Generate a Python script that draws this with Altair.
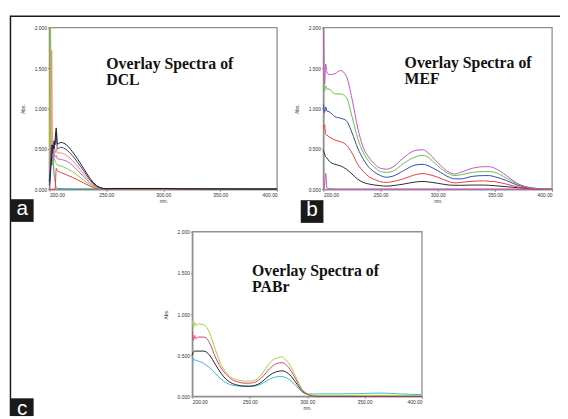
import altair as alt
import pandas as pd

# ---------------- data ----------------
X_TICKS = [200, 250, 300, 350, 400]
Y_TICKS = [0.0, 0.5, 1.0, 1.5, 2.0]

# Panel a : DCL
DCL_WL = [200, 200.5, 201, 201.5, 202, 202.5, 203, 204, 205, 206, 207, 210, 215, 220,
          225, 230, 235, 240, 245, 250, 260, 280, 300, 320, 350, 400]
DCL_BLACK = [0.05, 0.10, 0.20, 0.30, 0.40, 0.50, 0.55, 0.50, 0.62, 0.76, 0.56, 0.58,
             0.55, 0.47, 0.37, 0.26, 0.15, 0.065, 0.02, 0.008, 0.01, 0.01, 0.01,
             0.006, 0.005, 0.004]
DCL_BLUE = [0.10, 0.20, 0.30, 0.45, 0.55, 0.50, 0.45, 0.60, 0.55, 0.70, 0.50, 0.52,
            0.49, 0.42, 0.33, 0.23, 0.13, 0.055, 0.017, 0.006, 0.008, 0.008, 0.008,
            0.005, 0.004, 0.003]
DCL_ORANGE = [0.20, 0.30, 0.60, 1.20, 1.72, 0.80, 0.50, 0.60, 0.45, 0.50, 0.45, 0.45,
              0.42, 0.36, 0.28, 0.19, 0.11, 0.045, 0.014, 0.005, 0.006, 0.006, 0.006,
              0.004, 0.004, 0.003]
DCL_MAGENTA = [0.10, 0.25, 0.40, 0.55, 0.50, 0.40, 0.35, 0.45, 0.40, 0.42, 0.38, 0.37,
               0.35, 0.30, 0.23, 0.16, 0.09, 0.038, 0.012, 0.01, 0.012, 0.012, 0.012,
               0.01, 0.004, 0.003]
DCL_GREEN = [0.30, 1.20, 2.00, 0.90, 0.50, 0.35, 0.30, 0.40, 0.35, 0.32, 0.30, 0.29,
             0.26, 0.22, 0.17, 0.115, 0.065, 0.027, 0.008, 0.005, 0.006, 0.006, 0.006,
             0.006, 0.006, 0.005]
DCL_RED = [0.0, 0.0, 0.0, 0.0, 0.0, 0.0, 0.0, 0.0, 0.0, 0.26, 0.23, 0.21, 0.18, 0.15,
           0.115, 0.08, 0.045, 0.018, 0.005, 0.003, 0.003, 0.003, 0.003, 0.003, 0.003,
           0.003]
DCL_TEAL = [0.10, 0.30, 0.60, 0.40, 0.30, 0.45, 0.50, 0.20, 0.10, 0.02, 0.01, 0.008,
            0.006, 0.005, 0.005, 0.005, 0.005, 0.005, 0.005, 0.005, 0.005, 0.005,
            0.005, 0.004, 0.004, 0.003]

# Panel b : MEF
MEF_WL = [200, 201, 202, 203, 205, 210, 215, 220, 225, 230, 235, 240, 245, 250, 255,
          260, 270, 280, 287, 290, 300, 310, 315, 320, 330, 340, 345, 350, 360, 370,
          380, 390, 400]
MEF_MAGENTA = [2.00, 1.30, 1.55, 1.45, 1.42, 1.43, 1.47, 1.40, 1.12, 0.76, 0.51, 0.39,
               0.31, 0.26, 0.25, 0.27, 0.39, 0.48, 0.49, 0.47, 0.33, 0.21, 0.19, 0.21,
               0.26, 0.28, 0.28, 0.26, 0.17, 0.07, 0.02, 0.005, 0.0]
MEF_GREEN = [1.40, 1.22, 1.28, 1.24, 1.24, 1.18, 1.18, 1.14, 0.90, 0.63, 0.45, 0.34,
             0.27, 0.22, 0.21, 0.22, 0.32, 0.40, 0.42, 0.41, 0.29, 0.19, 0.17, 0.18,
             0.21, 0.22, 0.22, 0.21, 0.14, 0.065, 0.025, 0.008, 0.0]
MEF_BLUE = [1.05, 0.95, 1.02, 0.97, 0.96, 0.90, 0.88, 0.85, 0.70, 0.51, 0.37, 0.27,
            0.21, 0.17, 0.15, 0.16, 0.23, 0.30, 0.31, 0.30, 0.23, 0.15, 0.13, 0.13,
            0.16, 0.17, 0.17, 0.155, 0.11, 0.05, 0.02, 0.006, 0.0]
MEF_RED = [0.75, 0.80, 0.68, 0.67, 0.65, 0.61, 0.59, 0.55, 0.45, 0.31, 0.22, 0.155,
           0.12, 0.095, 0.085, 0.095, 0.13, 0.18, 0.195, 0.19, 0.15, 0.095, 0.08, 0.085,
           0.10, 0.105, 0.10, 0.095, 0.065, 0.03, 0.012, 0.004, 0.0]
MEF_BLACK = [0.48, 0.44, 0.40, 0.39, 0.35, 0.31, 0.29, 0.25, 0.19, 0.125, 0.085, 0.065,
             0.053, 0.045, 0.04, 0.045, 0.065, 0.09, 0.098, 0.095, 0.075, 0.053, 0.05,
             0.05, 0.053, 0.053, 0.05, 0.045, 0.033, 0.02, 0.01, 0.004, 0.0]
MEF_BASE = [0.0, 0.05, 0.20, 0.02, 0.01, 0.005, 0.004, 0.004, 0.004, 0.004, 0.004, 0.004,
            0.004, 0.004, 0.004, 0.004, 0.004, 0.004, 0.004, 0.004, 0.004, 0.004, 0.004,
            0.004, 0.004, 0.004, 0.004, 0.004, 0.003, 0.003, 0.002, 0.002, 0.002]

# Panel c : PABr
PAB_WL = [200, 201, 202, 203, 205, 210, 212, 215, 220, 225, 230, 235, 240, 245, 250,
          255, 260, 265, 270, 275, 278, 280, 285, 290, 295, 300, 305, 310, 330, 350,
          365, 380, 400]
PAB_GREEN = [0.92, 0.84, 0.90, 0.86, 0.88, 0.87, 0.85, 0.77, 0.57, 0.39, 0.28, 0.22,
             0.20, 0.185, 0.185, 0.20, 0.26, 0.36, 0.44, 0.47, 0.48, 0.46, 0.38, 0.24,
             0.10, 0.035, 0.015, 0.01, 0.01, 0.01, 0.01, 0.01, 0.01]
PAB_PINK = [0.78, 0.68, 0.74, 0.70, 0.72, 0.72, 0.71, 0.65, 0.48, 0.345, 0.26, 0.20,
            0.175, 0.16, 0.16, 0.175, 0.22, 0.30, 0.37, 0.405, 0.41, 0.40, 0.33, 0.21,
            0.09, 0.03, 0.01, 0.005, 0.005, 0.005, 0.005, 0.005, 0.005]
PAB_BLACK = [0.50, 0.54, 0.55, 0.55, 0.55, 0.55, 0.54, 0.50, 0.39, 0.28, 0.20, 0.155,
             0.135, 0.125, 0.125, 0.135, 0.17, 0.23, 0.28, 0.305, 0.31, 0.305, 0.26,
             0.17, 0.075, 0.025, 0.008, 0.004, 0.003, 0.003, 0.003, 0.003, 0.003]
PAB_CYAN = [0.38, 0.46, 0.44, 0.44, 0.43, 0.40, 0.38, 0.35, 0.28, 0.21, 0.16, 0.135,
            0.125, 0.12, 0.12, 0.125, 0.15, 0.19, 0.225, 0.24, 0.24, 0.235, 0.20, 0.13,
            0.06, 0.03, 0.028, 0.03, 0.03, 0.035, 0.04, 0.03, 0.02]

COLORS = {
    "DCL black": "#1c1c1c", "DCL blue": "#2c3e9c", "DCL orange": "#f4894a",
    "DCL magenta": "#c764c8", "DCL green": "#8cc63f", "DCL red": "#ee3b2f",
    "DCL teal": "#2f8f8f",
    "MEF magenta": "#c94fc4", "MEF green": "#5ec43c", "MEF blue": "#3444b4",
    "MEF red": "#ec3b3b", "MEF black": "#2a2a2a", "MEF base": "#d04fc8",
    "PABr green": "#a6cf3a", "PABr pink": "#e83872", "PABr black": "#1e1e1e",
    "PABr cyan": "#3bb6e2",
}


def long_df(wl, series):
    rows = []
    for name, vals in series.items():
        for w, v in zip(wl, vals):
            rows.append({"series": name, "wl": w, "abs": v})
    return pd.DataFrame(rows)


dcl = long_df(DCL_WL, {"DCL teal": DCL_TEAL, "DCL red": DCL_RED, "DCL green": DCL_GREEN,
                       "DCL magenta": DCL_MAGENTA, "DCL orange": DCL_ORANGE,
                       "DCL blue": DCL_BLUE, "DCL black": DCL_BLACK})
mef = long_df(MEF_WL, {"MEF base": MEF_BASE, "MEF black": MEF_BLACK, "MEF red": MEF_RED,
                       "MEF blue": MEF_BLUE, "MEF green": MEF_GREEN,
                       "MEF magenta": MEF_MAGENTA})
pab = long_df(PAB_WL, {"PABr cyan": PAB_CYAN, "PABr black": PAB_BLACK,
                       "PABr pink": PAB_PINK, "PABr green": PAB_GREEN})

# ---------------- layout ----------------
W, H = 560, 411
color_scale = alt.Scale(domain=list(COLORS.keys()), range=list(COLORS.values()))
one = pd.DataFrame({"d": [0]})
AX = "#8f8f8f"
LBL = "#333333"


def panel(df, xr, yr, title_lines, tx, ty):
    xs = alt.Scale(domain=[200, 400], range=xr, nice=False, zero=False)
    ys = alt.Scale(domain=[0, 2], range=yr, nice=False, zero=False)
    xaxis = alt.Axis(orient="bottom", offset=yr[0] - H, values=X_TICKS, format=".2f",
                     title="nm.", grid=False, domainColor=AX, domainWidth=1.3,
                     tickColor=AX, tickSize=2, labelPadding=1, labelFontSize=5,
                     labelColor=LBL, labelFont="Liberation Sans", titleFontSize=5,
                     titleFont="Liberation Sans", titleFontWeight="normal",
                     titleColor=LBL, titlePadding=1)
    yaxis = alt.Axis(orient="left", offset=-xr[0], values=Y_TICKS, format=".3f",
                     title="Abs.", grid=False, domainColor=AX, domainWidth=1.3,
                     tickColor=AX, tickSize=2, labelPadding=1, labelFontSize=5,
                     labelColor=LBL, labelFont="Liberation Sans", titleFontSize=5,
                     titleFont="Liberation Sans", titleFontWeight="normal",
                     titleColor=LBL, titlePadding=9)
    lines = alt.Chart(df).mark_line(strokeWidth=1, interpolate="monotone").encode(
        x=alt.X("wl:Q", scale=xs, axis=xaxis),
        y=alt.Y("abs:Q", scale=ys, axis=yaxis),
        color=alt.Color("series:N", scale=color_scale, legend=None),
        order=alt.Order("wl:Q"))
    box = alt.Chart(one).mark_rect(fillOpacity=0, stroke=AX, strokeWidth=1.3).encode(
        x=alt.X(datum=200, scale=xs, axis=xaxis), x2=alt.X2(datum=400),
        y=alt.Y(datum=0, scale=ys, axis=yaxis), y2=alt.Y2(datum=2))
    txt = alt.Chart(one).mark_text(
        align="left", baseline="alphabetic", font="Liberation Serif", fontSize=16,
        fontWeight="bold", lineHeight=16.5, color="#111111").encode(
        x=alt.X(datum=tx, scale=xs, axis=xaxis), y=alt.Y(datum=ty, scale=ys, axis=yaxis),
        text=alt.value(title_lines))
    return alt.layer(box, lines, txt)


pa = panel(dcl, [42, 273], [181, 17], ["Overlay Spectra of", "DCL"], 250, 1.49)
pb = panel(mef, [320, 552], [181, 17], ["Overlay Spectra of", "MEF"], 271, 1.50)
pc = panel(pab, [187, 420], [391, 224], ["Overlay Spectra of", "PABr"], 252, 1.46)

# decorations: figure frame and panel letters (pixel positions)
frame_top = alt.Chart(one).mark_rule(color="#1a1a1a", strokeWidth=1.5).encode(
    x=alt.value(2), x2=alt.value(W), y=alt.value(5.5))
frame_left = alt.Chart(one).mark_rule(color="#1a1a1a", strokeWidth=1.5).encode(
    x=alt.value(2.5), y=alt.value(5), y2=alt.value(H))

LETTERS = ["a", "b", "c"]
BOX_X = [3, 297, 3]
BOX_Y = [191, 192, 393]
deco = []
for letter, bx, by in zip(LETTERS, BOX_X, BOX_Y):
    bottom = min(by + 23, H)
    deco.append(alt.Chart(one).mark_rect(color="#1a1a1a").encode(
        x=alt.value(bx), x2=alt.value(bx + 23), y=alt.value(by), y2=alt.value(bottom)))
    deco.append(alt.Chart(one).mark_text(
        color="white", font="Liberation Sans", fontSize=21, align="center",
        baseline="middle").encode(
        x=alt.value(bx + 11.5), y=alt.value(by + 10.5), text=alt.value(letter)))

chart = alt.layer(pa, pb, pc, frame_top, frame_left, *deco).resolve_scale(
    x="independent", y="independent").properties(
    width=W, height=H, padding=0,
    autosize=alt.AutoSizeParams(type="none")).configure_view(stroke=None)

chart.save("out.html", embed_options={"renderer": "svg", "actions": False})
